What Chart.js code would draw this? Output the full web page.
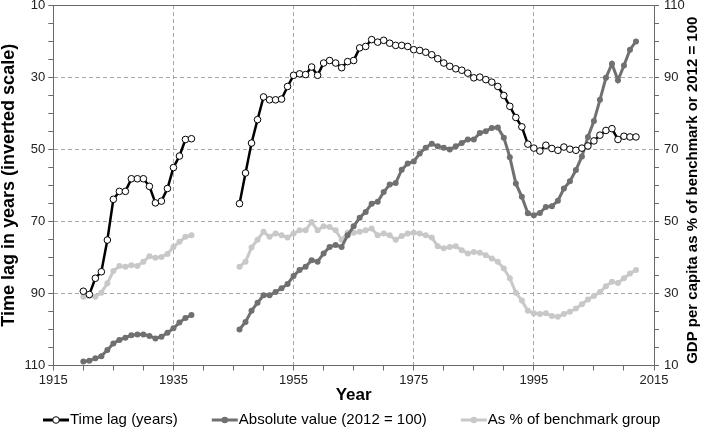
<!DOCTYPE html>
<html><head><meta charset="utf-8">
<script src="https://cdn.jsdelivr.net/npm/chart.js@4.4.0/dist/chart.umd.min.js"></script>
<style>html,body{margin:0;padding:0;background:#fff}#wrap{width:708px;height:435px;position:relative}</style>
</head><body><div id="wrap"><canvas id="c" width="708" height="435"></canvas></div>
<script>
const years = [
  1920,1921,1922,1923,1924,1925,1926,1927,1928,1929,
  1930,1931,1932,1933,1934,1935,1936,1937,1938,1939,
  1940,1941,1942,1943,1944,1945,1946,1947,1948,1949,
  1950,1951,1952,1953,1954,1955,1956,1957,1958,1959,
  1960,1961,1962,1963,1964,1965,1966,1967,1968,1969,
  1970,1971,1972,1973,1974,1975,1976,1977,1978,1979,
  1980,1981,1982,1983,1984,1985,1986,1987,1988,1989,
  1990,1991,1992,1993,1994,1995,1996,1997,1998,1999,
  2000,2001,2002,2003,2004,2005,2006,2007,2008,2009,
  2010,2011,2012
];
const timeLag = [
  89.4,90.3,85.8,84.0,75.2,63.9,61.7,61.7,58.2,58.2,
  58.2,60.3,64.9,64.4,60.9,55.1,51.9,47.3,47.1,null,
  null,null,null,null,null,null,65.1,56.6,48.3,41.8,
  35.5,36.3,36.3,36.1,32.6,29.5,29.1,29.3,27.2,29.5,
  26.1,25.4,26.1,27.4,25.7,25.4,21.9,21.5,19.6,20.3,
  19.8,20.6,21.2,21.2,21.5,22.4,22.6,23.1,23.8,24.9,
  26.1,27.0,27.7,28.1,28.9,30.2,30.0,30.7,31.4,32.6,
  35.1,38.1,41.2,43.8,48.6,49.7,50.5,48.9,49.8,50.3,
  49.4,50.0,50.3,49.7,49.1,47.7,46.1,44.8,44.3,47.3,
  46.4,46.6,46.6
];
const absoluteValue = [
  11.1,11.3,12.0,12.6,14.3,16.1,17.1,17.7,18.4,18.6,
  18.6,18.2,17.5,18.0,19.1,20.3,21.9,23.2,24.0,null,
  null,null,null,null,null,null,20.0,22.1,25.2,27.4,
  29.5,29.5,30.4,31.4,32.6,34.8,36.5,37.4,39.2,38.8,
  41.1,42.9,43.4,42.9,46.1,48.6,51.0,52.6,54.9,55.4,
  58.1,60.2,60.6,64.3,66.0,66.6,68.8,70.4,71.5,70.8,
  70.4,69.9,70.8,71.7,72.7,72.7,74.5,75.0,75.9,76.0,
  73.2,67.8,60.5,56.8,52.2,51.7,52.3,54.0,54.2,55.7,
  59.1,61.1,64.2,68.0,73.4,77.8,83.7,89.8,93.7,89.1,
  93.2,97.6,99.9
];
const benchmarkShare = [
  29.1,29.3,29.1,30.2,32.8,36.2,37.6,37.4,37.8,37.6,
  38.8,40.3,39.9,40.1,40.9,42.9,44.3,45.7,46.1,null,
  null,null,null,null,null,null,37.4,38.8,42.7,44.9,
  47.1,45.7,46.6,46.1,45.5,46.6,47.5,47.5,49.8,47.5,
  48.6,48.4,47.5,44.9,46.8,46.8,47.1,47.5,48.0,46.1,
  46.6,46.1,44.9,45.9,46.6,46.8,46.6,46.1,45.5,43.1,
  42.5,42.9,43.1,42.0,41.1,41.5,41.3,40.6,39.7,38.8,
  36.9,34.2,30.2,28.0,25.2,24.5,24.3,24.5,23.7,23.5,
  24.3,24.9,25.8,27.0,28.3,29.3,30.4,32.0,33.2,32.9,
  34.2,35.5,36.5
];
const seriesNames = ['Time lag (years)', 'Absolute value (2012 = 100)', 'As % of benchmark group'];
const xTitle = 'Year';
const leftTitle = 'Time lag in years (inverted scale)';
const rightTitle = 'GDP per capita as % of benchmark or 2012 = 100';

const FONT = "'Liberation Sans', Arial, Helvetica, sans-serif";
const DARK = '#707070', LIGHT = '#c8c8c8', AXIS = '#6a6a6a', GRID = '#a8a8a8';

function pts(vals) { return years.map((y, i) => ({x: y, y: vals[i]})); }

const legendStyle = [
  {line: '#000', fill: '#fff', stroke: '#000'},
  {line: DARK, fill: DARK, stroke: null},
  {line: LIGHT, fill: LIGHT, stroke: null}
];

const decor = {
  id: 'decor',
  afterDraw(chart) {
    const {ctx, chartArea} = chart;
    ctx.save();
    ctx.strokeStyle = AXIS; ctx.lineWidth = 1;
    ctx.beginPath();
    ctx.moveTo(chartArea.left, chartArea.top + 0.5);
    ctx.lineTo(chartArea.right, chartArea.top + 0.5);
    ctx.stroke();

    ctx.font = '15px ' + FONT;
    ctx.textBaseline = 'middle';
    ctx.textAlign = 'left';
    const ly = chart.height - 15;
    let x = 43;
    chart.data.datasets.forEach((d, i) => {
      const st = legendStyle[i];
      ctx.strokeStyle = st.line; ctx.lineWidth = 3;
      ctx.beginPath(); ctx.moveTo(x, ly); ctx.lineTo(x + 26, ly); ctx.stroke();
      ctx.beginPath(); ctx.arc(x + 13, ly, 3.3, 0, Math.PI * 2);
      ctx.fillStyle = st.fill; ctx.fill();
      if (st.stroke) { ctx.lineWidth = 1; ctx.strokeStyle = st.stroke; ctx.stroke(); }
      ctx.fillStyle = '#000';
      ctx.fillText(d.label, x + 27, ly);
      x += 27 + ctx.measureText(d.label).width + 34;
    });

    const s = chart.scales.y2;
    ctx.font = 'bold 15px ' + FONT;
    ctx.fillStyle = '#000';
    ctx.textAlign = 'center';
    ctx.translate(s.right - 15, (chartArea.top + chartArea.bottom) / 2 + 5);
    ctx.rotate(-Math.PI / 2);
    ctx.fillText(rightTitle, 0, 0);
    ctx.restore();
  }
};

const majorX = v => (v - 1915) % 20 === 0;
const majorY = v => (v - 10) % 20 === 0;

new Chart(document.getElementById('c'), {
  type: 'line',
  data: {
    datasets: [
      {label: seriesNames[0], data: pts(timeLag), yAxisID: 'y', borderColor: '#000', borderWidth: 2.5,
       pointRadius: 3.3, pointBackgroundColor: '#fff', pointBorderColor: '#000', pointBorderWidth: 1, spanGaps: false, tension: 0},
      {label: seriesNames[1], data: pts(absoluteValue), yAxisID: 'y2', borderColor: DARK, borderWidth: 3,
       pointRadius: 3, pointBackgroundColor: DARK, pointBorderColor: DARK, pointBorderWidth: 0, spanGaps: false, tension: 0},
      {label: seriesNames[2], data: pts(benchmarkShare), yAxisID: 'y2', borderColor: LIGHT, borderWidth: 3,
       pointRadius: 3, pointBackgroundColor: LIGHT, pointBorderColor: LIGHT, pointBorderWidth: 0, spanGaps: false, tension: 0}
    ]
  },
  options: {
    responsive: false,
    animation: false,
    devicePixelRatio: 1,
    layout: {padding: {top: 0, bottom: 26, left: 0, right: 0}},
    plugins: {
      tooltip: {enabled: false},
      legend: {display: false}
    },
    scales: {
      x: {
        type: 'linear', min: 1915, max: 2015,
        afterFit: s => { s.height = 43.5; },
        ticks: {stepSize: 5, autoSkip: false, maxRotation: 0, padding: 2, color: '#222',
                font: {family: FONT, size: 13},
                callback: v => majorX(v) ? String(v) : ''},
        grid: {color: c => (c.tick && majorX(c.tick.value) && c.tick.value !== 1915 && c.tick.value !== 2015) ? GRID : 'rgba(0,0,0,0)',
               tickColor: AXIS, tickLength: 5, lineWidth: 1},
        border: {display: true, color: AXIS, width: 1, dash: [4, 3]},
        title: {display: true, text: xTitle, color: '#000', padding: {top: 0, bottom: 3},
                font: {family: FONT, size: 17, weight: 'bold'}}
      },
      y: {
        type: 'linear', position: 'left', reverse: true, min: 10, max: 110,
        afterFit: s => { s.width = 53.3; s.paddingTop = 4.5; s.paddingBottom = 0; },
        ticks: {stepSize: 5, autoSkip: false, padding: 3, color: '#222',
                font: {family: FONT, size: 13},
                callback: v => majorY(v) ? String(v) : ''},
        grid: {color: c => (c.tick && majorY(c.tick.value) && c.tick.value !== 10 && c.tick.value !== 110) ? GRID : 'rgba(0,0,0,0)',
               tickColor: AXIS, tickLength: 5, lineWidth: 1},
        border: {display: true, color: AXIS, width: 1, dash: [4, 3]},
        title: {display: true, text: leftTitle, color: '#000', padding: {top: -2, bottom: 0},
                font: {family: FONT, size: 18, weight: 'bold'}}
      },
      y2: {
        type: 'linear', position: 'right', min: 10, max: 110,
        afterFit: s => { s.width = 54; s.paddingTop = 4.5; s.paddingBottom = 0; },
        ticks: {stepSize: 5, autoSkip: false, padding: 5, color: '#222',
                font: {family: FONT, size: 13},
                callback: v => majorY(v) ? String(v) : ''},
        grid: {drawOnChartArea: false, tickColor: AXIS, tickLength: 5, lineWidth: 1},
        border: {display: true, color: AXIS, width: 1}
      }
    }
  },
  plugins: [decor]
});
</script>
</body></html>
